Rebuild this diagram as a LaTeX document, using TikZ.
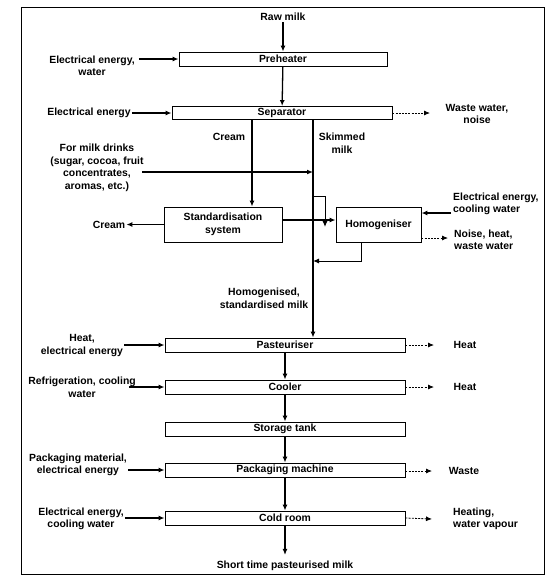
\documentclass[tikz,border=0pt]{standalone}
\usepackage{fontspec}
\setmainfont{Liberation Sans}
\usetikzlibrary{arrows.meta}

\begin{document}
\begin{tikzpicture}[x=1pt,y=-1pt,
  every node/.style={font=\bfseries\fontsize{10.4}{12.5}\selectfont,inner sep=1pt},
  procbox/.style={draw,line width=0.9pt,inner sep=0pt,align=center},
  flow/.style={line width=1.3pt,-{Latex[length=6pt,width=5pt]}},
  loss/.style={line width=0.8pt,dash pattern=on 2pt off 1.2pt,-{Latex[length=6pt,width=5pt]}}]
\useasboundingbox (0,0) rectangle (558,582);
\draw[line width=0.9pt] (21,7) rectangle (544,574);

% process boxes
\node[procbox,minimum width=208pt,minimum height=14pt] (pre) at (283,59) {Preheater};
\node[procbox,minimum width=220pt,minimum height=13pt] (sep) at (282,113) {Separator};
\node[procbox,minimum width=118pt,minimum height=35pt] (std) at (223,224.5) {Standardisation\\system};
\node[procbox,minimum width=85pt,minimum height=35pt] (hom) at (378.5,224.5) {Homogeniser};
\node[procbox,minimum width=240pt,minimum height=14pt] (past) at (285,345) {Pasteuriser};
\node[procbox,minimum width=240pt,minimum height=14pt] (cool) at (285,387) {Cooler};
\node[procbox,minimum width=240pt,minimum height=14pt] (tank) at (285,429) {Storage tank};
\node[procbox,minimum width=240pt,minimum height=14pt] (pack) at (285,470) {Packaging machine};
\node[procbox,minimum width=240pt,minimum height=14pt] (cold) at (285,518) {Cold room};

% texts
\node (raw) at (283,17) {Raw milk};
\node[align=center] (prein) at (92,66) {Electrical energy,\\water};
\node (sepin) at (89,113) {Electrical energy};
\node[align=center] (sepout) at (477,114) {Waste water,\\noise};
\node (creamlbl) at (229,137) {Cream};
\node[align=center] (skimlbl) at (342,143) {Skimmed\\milk};
\node[align=center] (drinks) at (97,168) {For milk drinks\\(sugar, cocoa, fruit\\concentrates,\\aromas, etc.)};
\node (cream) at (109,225) {Cream};
\node[align=left,anchor=west] (homin) at (452,204) {Electrical energy,\\cooling water};
\node[align=left,anchor=west] (homout) at (453,240) {Noise, heat,\\waste water};
\node[align=center] (mixlbl) at (264,298.5) {Homogenised,\\standardised milk};
\node[align=center] (pastin) at (82,345.5) {Heat,\\electrical energy};
\node (pastout) at (465,345) {Heat};
\node[align=center] (coolin) at (82,387.5) {Refrigeration, cooling\\water};
\node (coolout) at (465,387) {Heat};
\node[align=center] (packin) at (78,465) {Packaging material,\\electrical energy};
\node (packout) at (464,471) {Waste};
\node[align=center] (coldin) at (81,519) {Electrical energy,\\cooling water};
\node[align=left,anchor=west] (coldout) at (452,519) {Heating,\\water vapour};
\node (prod) at (285,566) {Short time pasteurised milk};

% line positions and free ends
\coordinate (crm) at (252,0);
\coordinate (skim) at (313,0);
\coordinate (br) at (313,196);
\coordinate (brd) at (325,227);
\coordinate (ret) at (313,261);
\coordinate (drinksin) at (142,172);
\coordinate (homina) at (451,213);
\coordinate (w1) at (430,113);
\coordinate (w2) at (448,238);
\coordinate (w3) at (434,345);
\coordinate (w4) at (434,387);
\coordinate (w5) at (432,471);
\coordinate (w6) at (432,519);

% main flow
\draw[flow] (raw) -- (pre);
\draw[flow] (pre) -- (sep);
\draw[flow] (crm |- sep.south) -- (crm |- std.north);
\draw[flow] (skim |- sep.south) -- (skim |- past.north);
\draw[flow] (drinksin) -- (skim |- drinksin);
\draw[flow] (std.west) -- (std.west -| cream.east);
\draw[line width=2pt,-{Latex[length=6pt,width=5pt]}] ([yshift=4.5pt]std.east) -- ([yshift=4.5pt]hom.west);
\draw[flow,line width=1pt] (br) -| (brd);
\draw[flow,line width=1pt] ([xshift=-17.5pt]hom.south) |- (ret);
\draw[flow] (homina) -- (homina -| hom.east);
\draw[loss] (w2 -| hom.east) -- (w2);
\draw[flow] (past) -- (cool);
\draw[flow] (cool) -- (tank);
\draw[flow] (tank) -- (pack);
\draw[flow] (pack) -- (cold);
\draw[flow,shorten >=5pt] (cold) -- (prod);

% inputs
\draw[flow] ([xshift=3pt]prein.east |- pre.west) -- (pre.west);
\draw[flow] (sepin) -- (sep);
\draw[flow] (pastin.east |- past.west) -- (past.west);
\draw[flow] ([xshift=-8pt]coolin.east |- cool.west) -- (cool.west);
\draw[flow] (packin.east |- pack.west) -- (pack.west);
\draw[flow] (coldin.east |- cold.west) -- (cold.west);

% outputs
\draw[loss] (sep.east) -- (w1);
\draw[loss] (past.east) -- (w3);
\draw[loss] (cool.east) -- (w4);
\draw[loss] (pack.east |- w5) -- (w5);
\draw[loss] (cold.east) -- (w6);
\end{tikzpicture}
\end{document}
